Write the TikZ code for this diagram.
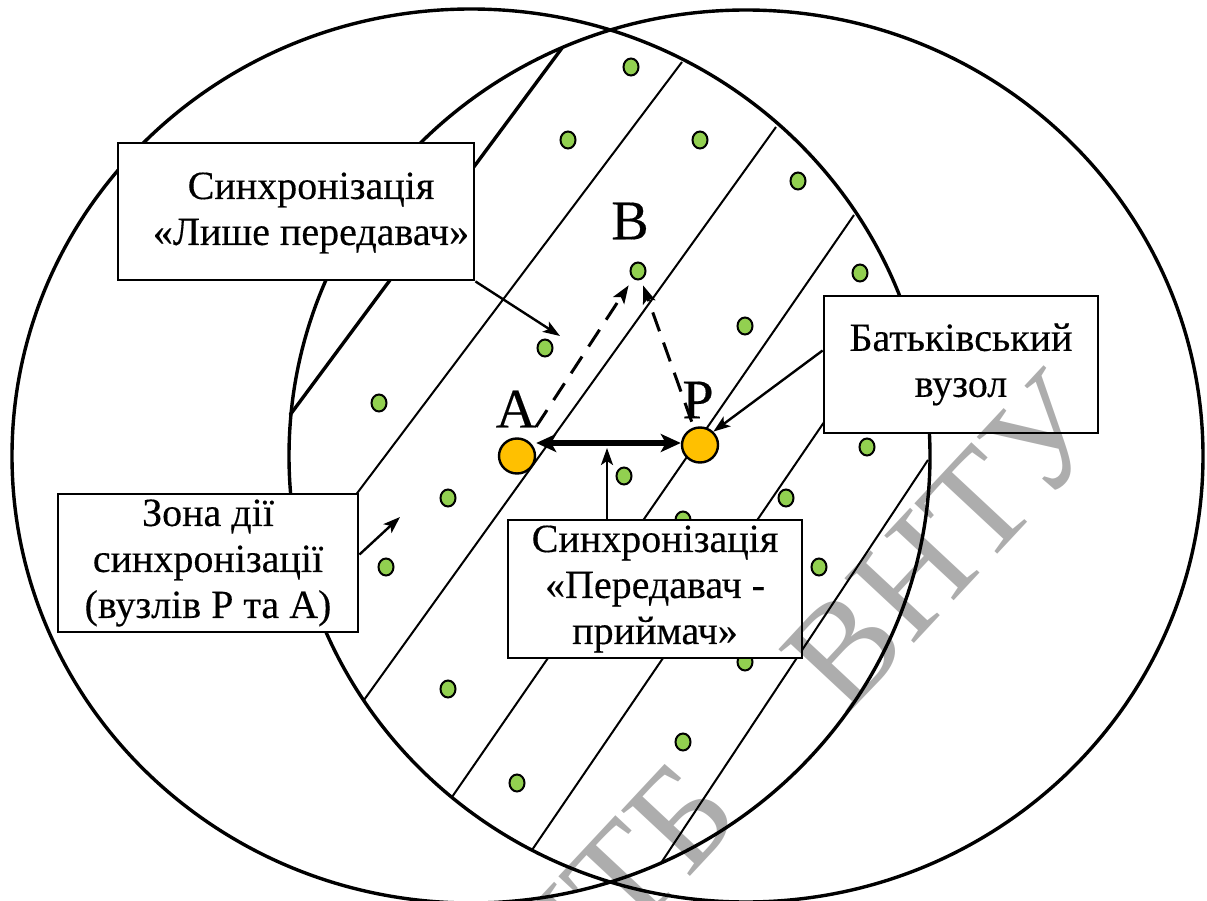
\documentclass[tikz,border=0pt]{standalone}
\usepackage{fontspec}
\setmainfont{Liberation Serif}
\newfontfamily\boxfam{Liberation Serif}[FakeBold=0.3]
\usetikzlibrary{shapes.geometric, arrows.meta, calc}
\definecolor{dotgreen}{HTML}{92D050}
\definecolor{nodeorange}{HTML}{FFC000}
\newcommand{\boxfont}{\boxfam\fontsize{40}{46}\selectfont}
\newcommand{\lblfont}{\boxfam\fontsize{56}{60}\selectfont}
\newcommand{\wmfont}{\fontsize{145}{150}\selectfont}
\tikzset{
  ring/.style={line width=3.4pt},
  hatch/.style={line width=2pt},
  thickhatch/.style={line width=3.4pt},
  box/.style={draw, line width=2.8pt, fill=white, inner sep=0pt},
  boxtext/.style={font=\boxfont, align=center, inner sep=0pt},
  lbl/.style={font=\lblfont, inner sep=0pt},
  wm/.style={font=\wmfont, text=black, text opacity=0.32, inner sep=0pt},
  gdot/.style={ellipse, draw, line width=2pt, fill=dotgreen, minimum width=15pt, minimum height=17pt, inner sep=0pt},
  onode/.style={ellipse, draw, line width=2.4pt, fill=nodeorange, minimum width=36pt, minimum height=35pt, inner sep=0pt},
  thinarrow/.style={line width=2.4pt, -{Stealth[length=17pt,width=12pt,inset=4pt]}},
  dblarrow/.style={line width=5.5pt, {Stealth[length=20pt,width=18pt,inset=5pt]}-{Stealth[length=20pt,width=18pt,inset=5pt]}},
  dasharrow/.style={line width=3pt, dash pattern=on 20pt off 12pt, -{Stealth[length=18pt,width=13pt,inset=4pt]}}
}
\begin{document}
\begin{tikzpicture}[x=1pt,y=-1pt]
\useasboundingbox (0,0) rectangle (1207,901);
% two zones
\draw[ring] (471,456) ellipse [x radius=459pt, y radius=447pt];
\draw[ring] (746,456) ellipse [x radius=457pt, y radius=446pt];
% hatching of the common zone
\draw[thickhatch] (562,48) -- (290,415);
\draw[hatch] (682,62) -- (303,565);
\draw[hatch] (776,127) -- (364,700);
\draw[hatch] (854,215) -- (452,797);
\draw[hatch] (904,305) -- (532,850);
\draw[hatch] (928,460) -- (661,863);
% ordinary nodes
\foreach \p [count=\i] in {(631,67),(568,140),(700,140),(798,181),(860,273),(745,326),(545,348),(379,403),(867,447),(624,476),(786,498),(448,498),(386,567),(819,567),(683,520),(745,662),(448,689),(683,742),(517,783)}
  \node[gdot] (g\i) at \p {};
\node[gdot] (bd) at (638,271) {};
% main nodes
\node[onode] (A) at (517,456) {};
\node[onode] (P) at (700,445) {};
\node[lbl] (la) at (516,409) {A};
\node[lbl] (lp) at (698,400) {P};
\node[lbl] (lb) at (630,221) {B};
% arrows between nodes
\draw[dasharrow, shorten <=16pt, shorten >=8pt] (A) -- (bd);
\draw[dasharrow, shorten <=6pt, shorten >=6pt] (P) -- (bd);
\coordinate (dm) at (607,448);
\draw[dblarrow] ([yshift=2pt]A.east |- P.west) -- ([yshift=2pt]P.west);
% boxes
\node[box, minimum width=356pt, minimum height=137pt] (b1) at (296,211.5) {};
\node[boxtext] (t1) at (311,213) {Синхронізація\\«Лише передавач»};
\node[box, minimum width=274pt, minimum height=137pt] (b2) at (961,364.5) {};
\node[boxtext] (t2) at (b2.center) {Батьківський\\вузол};
\node[box, minimum width=300pt, minimum height=138pt] (b3) at (208,563) {};
\node[boxtext] (t3) at (b3.center) {Зона дії\\синхронізації\\(вузлів Р та А)};
\node[box, minimum width=294pt, minimum height=138pt] (b4) at (655,589) {};
\node[boxtext] (t4) at (b4.center) {Синхронізація\\«Передавач -\\приймач»};
% pointers from boxes
\coordinate (z1) at (560,336);
\coordinate (z3) at (400,517);
\draw[thinarrow] (b1.south east) -- (z1);
\draw[thinarrow] ($(b2.north west)!0.4!(b2.south west)$) -- (P.45);
\draw[thinarrow] ($(b3.north east)!0.44!(b3.south east)$) -- (z3);
\draw[thinarrow] (b4.north -| dm) -- (dm);
% watermark
\node[wm, rotate=47] (wm1) at (945,542) {ВНТУ};
\node[wm, rotate=47] (wm2) at (615,887) {НТБ};
\end{tikzpicture}
\end{document}
